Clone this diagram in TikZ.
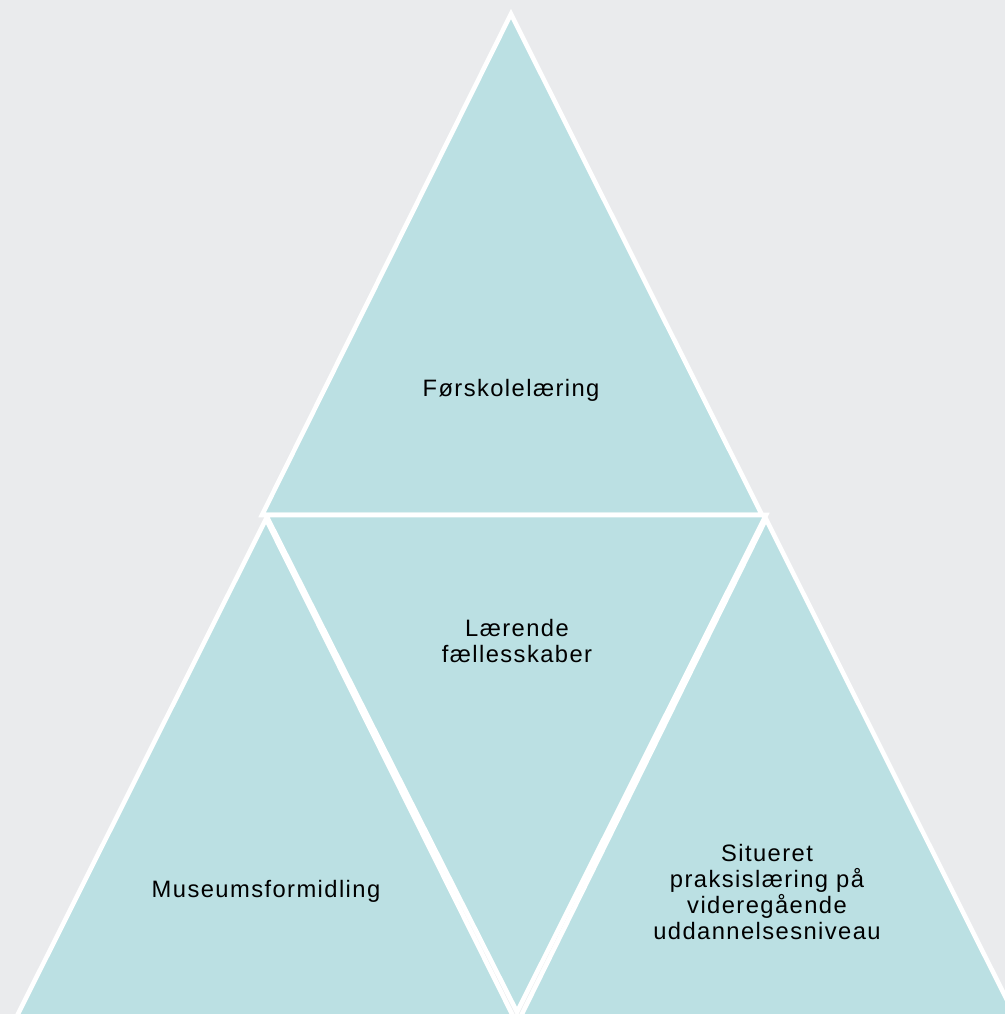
\documentclass[tikz,border=0pt]{standalone}
\usepackage{fontspec}
\setmainfont[LetterSpace=6]{Liberation Sans}
\definecolor{bg}{HTML}{EAEBED}
\definecolor{tri}{HTML}{BBE0E3}
\tikzset{
  tri/.style = {fill=tri, draw=white, line width=1.3pt, line join=miter},
  lbl/.style = {align=center, font=\fontsize{6.75}{7.3}\selectfont, text=black}
}
\begin{document}
\begin{tikzpicture}[x=0.01cm, y=-0.01cm]
            % Background
            \fill[bg] (0,0) rectangle (1005,1014);
            \useasboundingbox (0,0) rectangle (1005,1014);

            % Corners with manual coordinates
            \coordinate (t) at (511,14);
            \coordinate (tl) at (262,515);
            \coordinate (tr) at (762,515);
            \coordinate (cl) at (266,515);
            \coordinate (cr) at (766,515);
            \coordinate (cb) at (517,1012);
            \coordinate (l) at (266,519);
            \coordinate (ll) at (15,1020);
            \coordinate (lr) at (515,1020);
            \coordinate (r) at (766,519);
            \coordinate (rl) at (519,1020);
            \coordinate (rr) at (1017,1020);

            % Triangles
            \draw[tri] (t) -- (tl) -- (tr) -- cycle;
            \draw[tri] (cl) -- (cr) -- (cb) -- cycle;
            \draw[tri] (l) -- (ll) -- (lr) -- cycle;
            \draw[tri] (r) -- (rl) -- (rr) -- cycle;

            % Labels
            \node[lbl] (a) at (511,390) {Førskolelæring};
            \node[lbl] (b) at (517,641) {Lærende\\fællesskaber};
            \node[lbl] (c) at (266,891) {Museumsformidling};
            \node[lbl] (d) at (767,892) {Situeret\\praksislæring på\\videregående\\uddannelsesniveau};
\end{tikzpicture}
\end{document}
